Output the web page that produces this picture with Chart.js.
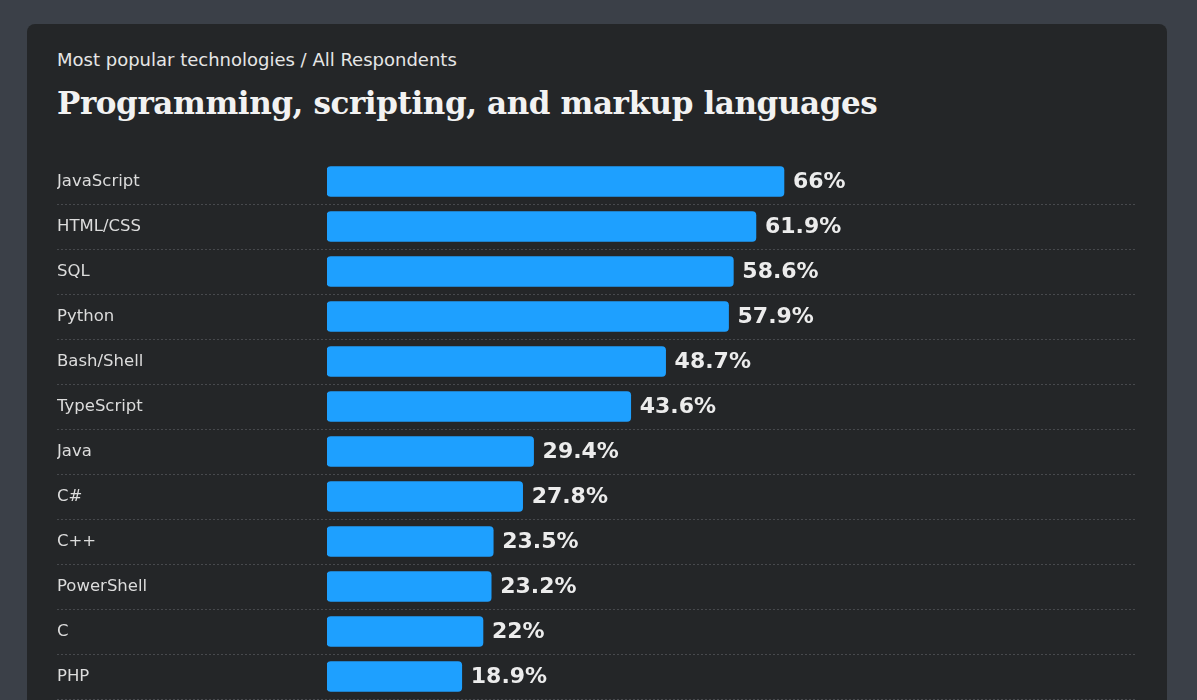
<!DOCTYPE html>
<html>
<head>
<meta charset="utf-8">
<script src="https://cdn.jsdelivr.net/npm/chart.js@4"></script>
<style>
  html, body { margin: 0; padding: 0; background: #3b4048; width: 1197px; height: 700px; overflow: hidden; }
  .card { position: absolute; left: 27px; top: 24px; width: 1140px; height: 720px; background: #242628; border-radius: 8px; }
  .sub { position: absolute; left: 30px; top: 25px; font: 18px "DejaVu Sans", sans-serif; color: #e6e6e6; }
  .title { position: absolute; left: 30px; top: 61px; font: bold 31px "DejaVu Serif", serif; color: #f2f2f2; letter-spacing: -0.4px; }
  .wrap { position: absolute; left: 30px; top: 135px; width: 1082px; height: 542px; }
</style>
</head>
<body>
<div class="card">
  <div class="sub">Most popular technologies / All Respondents</div>
  <div class="title">Programming, scripting, and markup languages</div>
  <div class="wrap"><canvas id="chart"></canvas></div>
</div>
<script>
const languages = ['JavaScript', 'HTML/CSS', 'SQL', 'Python', 'Bash/Shell', 'TypeScript',
  'Java', 'C#', 'C++', 'PowerShell', 'C', 'PHP'];
const shares = [66, 61.9, 58.6, 57.9, 48.7, 43.6, 29.4, 27.8, 23.5, 23.2, 22, 18.9];

// dotted separators under every row, full width
const rowLines = {
  id: 'rowLines',
  beforeDatasetsDraw(chart) {
    const { ctx, scales: { y } } = chart;
    ctx.save();
    ctx.strokeStyle = '#47494d';
    ctx.lineWidth = 1;
    ctx.setLineDash([2, 2]);
    const step = y.getPixelForValue(1) - y.getPixelForValue(0);
    languages.forEach((_, i) => {
      const py = Math.round(y.getPixelForValue(i) + step / 2) + 0.5;
      ctx.beginPath();
      ctx.moveTo(0, py);
      ctx.lineTo(1080, py);
      ctx.stroke();
    });
    ctx.restore();
  }
};

// percentage labels at the end of each bar
const valueLabels = {
  id: 'valueLabels',
  afterDatasetsDraw(chart) {
    const { ctx } = chart;
    const meta = chart.getDatasetMeta(0);
    ctx.save();
    ctx.font = 'bold 22px "DejaVu Sans", sans-serif';
    ctx.fillStyle = '#ececec';
    ctx.textBaseline = 'middle';
    meta.data.forEach((bar, i) => {
      ctx.fillText(shares[i] + '%', bar.x + 9, bar.y + 1);
    });
    ctx.restore();
  }
};

new Chart(document.getElementById('chart'), {
  type: 'bar',
  data: {
    labels: languages,
    datasets: [{
      data: shares,
      base: -0.8,
      backgroundColor: '#1ea0ff',
      borderRadius: 4,
      borderSkipped: false,
      barThickness: 30,
    }],
  },
  options: {
    indexAxis: 'y',
    responsive: true,
    maintainAspectRatio: false,
    animation: false,
    layout: { padding: { top: 0, bottom: 2, left: 0, right: 0 } },
    plugins: {
      legend: { display: false },
      tooltip: { enabled: false },
    },
    scales: {
      x: {
        display: false,
        min: -0.8,
        max: 117.9,
      },
      y: {
        grid: { display: false },
        border: { display: false },
        afterFit: (s) => { s.width = 270; s.paddingTop = 0; s.paddingBottom = 0; },
        ticks: {
          crossAlign: 'far',
          color: '#dcdcdc',
          padding: 0,
          font: { family: 'DejaVu Sans', size: 16.5 },
        },
      },
    },
  },
  plugins: [rowLines, valueLabels],
});
</script>
</body>
</html>
